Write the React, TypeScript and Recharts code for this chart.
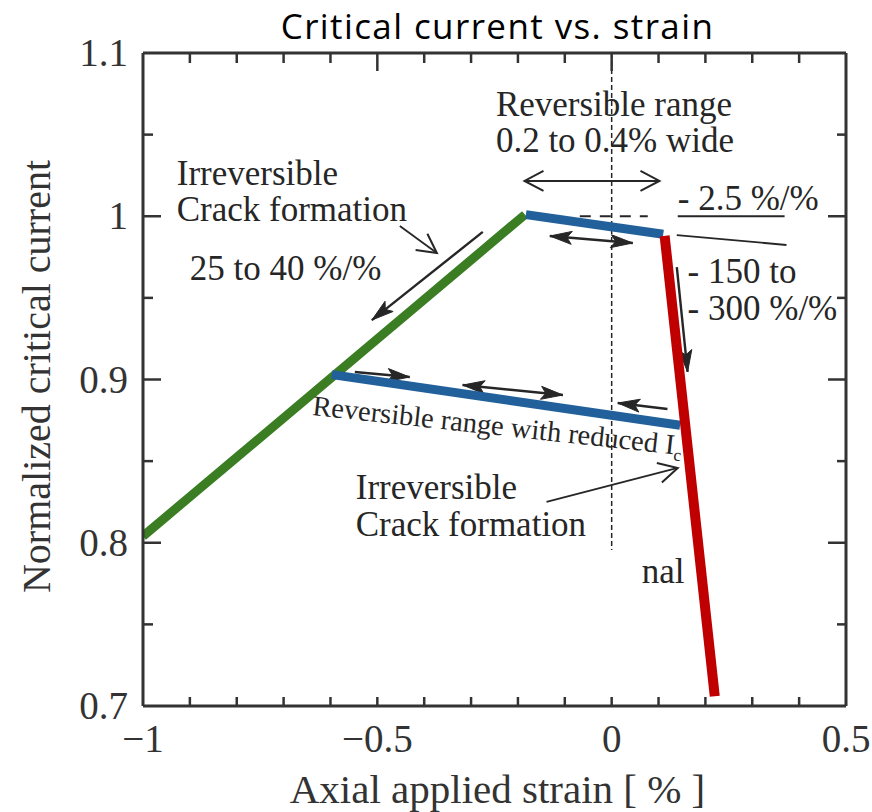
import React from 'react';
import { LineChart, Line, XAxis, YAxis, ReferenceLine, ReferenceDot } from 'recharts';

// ---- data ----
const X_TICKS = [-1, -0.9, -0.8, -0.7, -0.6, -0.5, -0.4, -0.3, -0.2, -0.1, 0, 0.1, 0.2, 0.3, 0.4, 0.5];
const X_TICK_LABELS = ['\u22121', '', '', '', '', '\u22120.5', '', '', '', '', '0', '', '', '', '', '0.5'];
const Y_TICKS = [0.7, 0.75, 0.8, 0.85, 0.9, 0.95, 1.0, 1.05, 1.1];
const Y_TICK_LABELS = ['0.7', '', '0.8', '', '0.9', '', '1', '', '1.1'];

const GREEN_SEGMENT = [
  { x: -1, y: 0.804 },
  { x: -0.185, y: 1.001 },
];
const UPPER_BLUE = [
  { x: -0.183, y: 1.001 },
  { x: 0.11, y: 0.989 },
];
const RED_SEGMENT = [
  { x: 0.113, y: 0.988 },
  { x: 0.22, y: 0.706 },
];
const LOWER_BLUE = [
  { x: -0.597, y: 0.903 },
  { x: 0.146, y: 0.872 },
];

const TITLE = 'Critical current vs. strain';
const X_LABEL = 'Axial applied strain [ % ]';
const Y_LABEL = 'Normalized critical current';

const NOTE_TEXTS = [
  { x: -0.247, y: 1.0614, text: 'Reversible range' },
  { x: -0.247, y: 1.0394, text: '0.2 to 0.4% wide' },
  { x: 0.141, y: 1.0038, text: '- 2.5 %/%' },
  { x: 0.162, y: 0.9591, text: '- 150 to' },
  { x: 0.162, y: 0.9364, text: '- 300 %/%' },
  { x: -0.928, y: 1.0191, text: 'Irreversible' },
  { x: -0.928, y: 0.9971, text: 'Crack formation' },
  { x: -0.9, y: 0.961, text: '25 to 40 %/%' },
  { x: -0.546, y: 0.8266, text: 'Irreversible' },
  { x: -0.546, y: 0.8044, text: 'Crack formation' },
  { x: 0.064, y: 0.7753, text: 'nal' },
];
const SLANTED_NOTE = { x: -0.64, y: 0.8783, text: 'Reversible range with reduced I', sub: 'c' };

const ARROWS = [
  { x1: -0.186, y1: 1.0216, x2: 0.102, y2: 1.0216, head: 'open', both: true },
  { x1: -0.132, y1: 0.9879, x2: 0.045, y2: 0.9836, head: 'filled', both: true },
  { x1: 0.139, y1: 0.9689, x2: 0.162, y2: 0.9046, head: 'filled', both: false },
  { x1: -0.452, y1: 0.994, x2: -0.373, y2: 0.9775, head: 'open', both: false },
  { x1: -0.275, y1: 0.9904, x2: -0.5117, y2: 0.9364, head: 'filled', both: false },
  { x1: -0.548, y1: 0.9046, x2: -0.431, y2: 0.9015, head: 'filled', both: false },
  { x1: -0.318, y1: 0.8966, x2: -0.104, y2: 0.8905, head: 'filled', both: true },
  { x1: 0.119, y1: 0.8819, x2: 0.013, y2: 0.8856, head: 'filled', both: false },
  { x1: -0.139, y1: 0.825, x2: 0.141, y2: 0.8458, head: 'open', both: false },
];
const PLAIN_LINES = [
  { x1: 0.141, y1: 1.0, x2: 0.369, y2: 1.0 },
  { x1: 0.139, y1: 0.9885, x2: 0.373, y2: 0.9824 },
];
const DASHED_H = { x1: -0.068, x2: 0.077, y: 1.0 };
const DASHED_V = { x: 0, y1: 1.1, y2: 0.7956 };

// ---- styling ----
const SERIF = '"Liberation Serif", "Times New Roman", Times, serif';
const AXIS = '#333333';
const INK = '#262626';
const M = 14;

const findLabel = (ticks: number[], labels: string[], v: number) => {
  const i = ticks.findIndex((t) => Math.abs(t - v) < 1e-6);
  return i >= 0 ? labels[i] : '';
};
const isEdge = (ticks: number[], v: number) =>
  Math.abs(v - ticks[0]) < 1e-6 || Math.abs(v - ticks[ticks.length - 1]) < 1e-6;

const BottomTick = (p: any) => {
  const v = p.payload.value;
  const axisY = p.y - M;
  const label = findLabel(X_TICKS, X_TICK_LABELS, v);
  return (
    <g>
      {!isEdge(X_TICKS, v) && <line x1={p.x} x2={p.x} y1={axisY} y2={axisY - 9} stroke={AXIS} strokeWidth={2.5} />}
      {label && (
        <text x={p.x} y={axisY + 46} textAnchor="middle" fontFamily={SERIF} fontSize={39} fill={AXIS}>
          {label}
        </text>
      )}
    </g>
  );
};

const TopTick = (p: any) => {
  const v = p.payload.value;
  const axisY = p.y + M;
  const label = findLabel(X_TICKS, X_TICK_LABELS, v);
  if (isEdge(X_TICKS, v)) return <g />;
  return <line x1={p.x} x2={p.x} y1={axisY} y2={axisY + (label ? 18 : 10)} stroke={AXIS} strokeWidth={2.5} />;
};

const LeftTick = (p: any) => {
  const v = p.payload.value;
  const axisX = p.x + M;
  const label = findLabel(Y_TICKS, Y_TICK_LABELS, v);
  return (
    <g>
      {!isEdge(Y_TICKS, v) && (
        <line x1={axisX} x2={axisX + (label ? 18 : 10)} y1={p.y} y2={p.y} stroke={AXIS} strokeWidth={2.5} />
      )}
      {label && (
        <text x={axisX - 15} y={p.y + 13} textAnchor="end" fontFamily={SERIF} fontSize={39} fill={AXIS}>
          {label}
        </text>
      )}
    </g>
  );
};

const RightTick = (p: any) => {
  const v = p.payload.value;
  const axisX = p.x - M;
  const label = findLabel(Y_TICKS, Y_TICK_LABELS, v);
  if (isEdge(Y_TICKS, v)) return <g />;
  return <line x1={axisX} x2={axisX - (label ? 18 : 9)} y1={p.y} y2={p.y} stroke={AXIS} strokeWidth={2.5} />;
};

const XLabel = (p: any) => {
  const vb = p.viewBox || { x: 143, y: 706, width: 703, height: 60 };
  return (
    <text x={vb.x + vb.width / 2 + 3} y={vb.y + 97} textAnchor="middle" fontFamily={SERIF} fontSize={41} fill={AXIS}>
      {X_LABEL}
    </text>
  );
};

const TitleLabel = (p: any) => {
  const vb = p.viewBox || { x: 143, y: 23, width: 703, height: 30 };
  return (
    <text
      x={vb.x + vb.width / 2 + 3}
      y={vb.y + vb.height - 14}
      textAnchor="middle"
      fontFamily='"Open Sans", "Noto Sans", sans-serif'
      fontSize={35}
      letterSpacing={1.4}
      fill="#000"
    >
      {TITLE}
    </text>
  );
};

const YLabel = (p: any) => {
  const vb = p.viewBox || { x: 83, y: 53, width: 60, height: 653 };
  const cx = vb.x + vb.width - 93;
  const cy = vb.y + vb.height / 2 - 3;
  return (
    <text
      transform={`translate(${cx},${cy}) rotate(-90)`}
      textAnchor="middle"
      fontFamily={SERIF}
      fontSize={40}
      fill={AXIS}
    >
      {Y_LABEL}
    </text>
  );
};

const head = (tx: number, ty: number, fx: number, fy: number, kind: string, key: string) => {
  const dx = tx - fx;
  const dy = ty - fy;
  const d = Math.hypot(dx, dy) || 1;
  const ux = dx / d;
  const uy = dy / d;
  const px = -uy;
  const py = ux;
  if (kind === 'open') {
    const L = 19;
    const W = 10;
    const bx = tx - ux * L;
    const by = ty - uy * L;
    return (
      <polyline
        key={key}
        points={`${bx + px * W},${by + py * W} ${tx},${ty} ${bx - px * W},${by - py * W}`}
        fill="none"
        stroke={INK}
        strokeWidth={2}
      />
    );
  }
  const L = 22;
  const W = 6.5;
  const bx = tx - ux * L;
  const by = ty - uy * L;
  const nx = tx - ux * L * 0.78;
  const ny = ty - uy * L * 0.78;
  return (
    <polygon
      key={key}
      points={`${tx},${ty} ${bx + px * W},${by + py * W} ${nx},${ny} ${bx - px * W},${by - py * W}`}
      fill={INK}
      stroke={INK}
      strokeWidth={1}
    />
  );
};

const arrowShape = (kind: string, both: boolean) => (p: any) => {
  const { x1, y1, x2, y2 } = p;
  return (
    <g>
      <line x1={x1} y1={y1} x2={x2} y2={y2} stroke={INK} strokeWidth={kind === 'open' ? 1.8 : 2.4} />
      {head(x2, y2, x1, y1, kind, 'end')}
      {both && head(x1, y1, x2, y2, kind, 'start')}
    </g>
  );
};

const noteShape = (text: string) => (p: any) => (
  <text x={p.cx} y={p.cy} fontFamily={SERIF} fontSize={35} fill={INK}>
    {text}
  </text>
);

const slantedShape = (p: any) => (
  <text transform={`translate(${p.cx},${p.cy}) rotate(6.2)`} fontFamily={SERIF} fontSize={28.5} fill={INK}>
    {SLANTED_NOTE.text}
    <tspan fontSize={17} dy={6}>
      {SLANTED_NOTE.sub}
    </tspan>
  </text>
);

export default function App() {
  return (
    <div style={{ position: 'absolute', left: 0, top: 0, width: 872, height: 812, background: '#fff' }}>
      <LineChart width={872} height={812} margin={{ top: 23, right: 6, bottom: 46, left: 83 }}>
        <XAxis
          xAxisId={0}
          dataKey="x"
          type="number"
          domain={[-1, 0.5]}
          ticks={X_TICKS}
          interval={0}
          allowDataOverflow
          height={60}
          tickSize={0}
          tickMargin={M}
          tickLine={false}
          tick={(p: any) => <BottomTick {...p} />}
          axisLine={{ stroke: AXIS, strokeWidth: 3 }}
          label={<XLabel />}
        />
        <XAxis
          xAxisId="top"
          orientation="top"
          dataKey="x"
          type="number"
          domain={[-1, 0.5]}
          ticks={X_TICKS}
          interval={0}
          allowDataOverflow
          height={30}
          tickSize={0}
          tickMargin={M}
          tickLine={false}
          tick={(p: any) => <TopTick {...p} />}
          axisLine={{ stroke: AXIS, strokeWidth: 3 }}
          label={<TitleLabel />}
        />
        <YAxis
          yAxisId={0}
          type="number"
          domain={[0.7, 1.1]}
          ticks={Y_TICKS}
          interval={0}
          allowDataOverflow
          width={60}
          tickSize={0}
          tickMargin={M}
          tickLine={false}
          tick={(p: any) => <LeftTick {...p} />}
          axisLine={{ stroke: AXIS, strokeWidth: 3 }}
          label={<YLabel />}
        />
        <YAxis
          yAxisId="right"
          orientation="right"
          type="number"
          domain={[0.7, 1.1]}
          ticks={Y_TICKS}
          interval={0}
          allowDataOverflow
          width={20}
          tickSize={0}
          tickMargin={M}
          tickLine={false}
          tick={(p: any) => <RightTick {...p} />}
          axisLine={{ stroke: AXIS, strokeWidth: 3 }}
        />

        <ReferenceLine
          segment={[
            { x: DASHED_V.x, y: DASHED_V.y1 },
            { x: DASHED_V.x, y: DASHED_V.y2 },
          ]}
          stroke={INK}
          strokeWidth={1.5}
          strokeDasharray="5 3"
          ifOverflow="visible"
        />
        <ReferenceLine
          segment={[
            { x: DASHED_H.x1, y: DASHED_H.y },
            { x: DASHED_H.x2, y: DASHED_H.y },
          ]}
          stroke={INK}
          strokeWidth={2}
          strokeDasharray="11 9"
          ifOverflow="visible"
        />
        {PLAIN_LINES.map((l, i) => (
          <ReferenceLine
            key={`pl${i}`}
            segment={[
              { x: l.x1, y: l.y1 },
              { x: l.x2, y: l.y2 },
            ]}
            stroke={INK}
            strokeWidth={1.8}
            ifOverflow="visible"
          />
        ))}
        {ARROWS.map((a, i) => (
          <ReferenceLine
            key={`ar${i}`}
            segment={[
              { x: a.x1, y: a.y1 },
              { x: a.x2, y: a.y2 },
            ]}
            ifOverflow="visible"
            shape={arrowShape(a.head, a.both)}
          />
        ))}

        <Line data={GREEN_SEGMENT} dataKey="y" type="linear" stroke="#3a7d22" strokeWidth={9} dot={false} activeDot={false} isAnimationActive={false} />
        <Line data={UPPER_BLUE} dataKey="y" type="linear" stroke="#21609b" strokeWidth={9} dot={false} activeDot={false} isAnimationActive={false} />
        <Line data={LOWER_BLUE} dataKey="y" type="linear" stroke="#21609b" strokeWidth={9} dot={false} activeDot={false} isAnimationActive={false} />
        <Line data={RED_SEGMENT} dataKey="y" type="linear" stroke="#c00000" strokeWidth={10} dot={false} activeDot={false} isAnimationActive={false} />

        {NOTE_TEXTS.map((t, i) => (
          <ReferenceDot key={`nt${i}`} x={t.x} y={t.y} r={1} ifOverflow="visible" shape={noteShape(t.text)} />
        ))}
        <ReferenceDot x={SLANTED_NOTE.x} y={SLANTED_NOTE.y} r={1} ifOverflow="visible" shape={slantedShape} />
      </LineChart>
    </div>
  );
}
